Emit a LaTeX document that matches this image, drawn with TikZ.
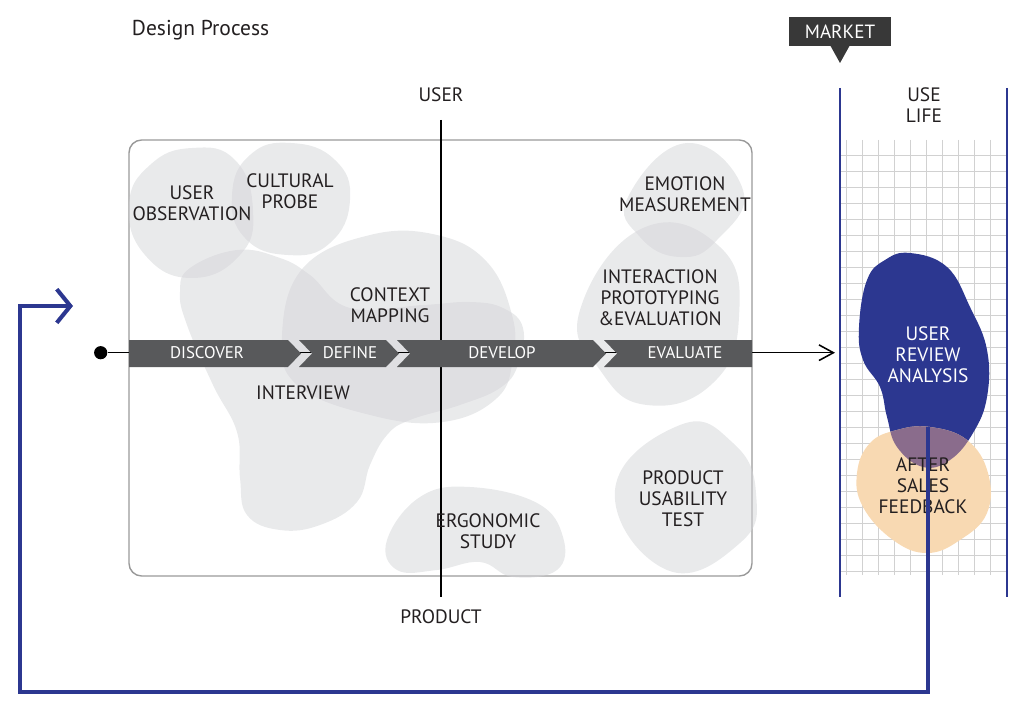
\documentclass[tikz,border=0pt]{standalone}
\usepackage{fontspec}
\setmainfont{PT Sans}
\usetikzlibrary{positioning,arrows.meta}
\definecolor{myblue}{RGB}{44,55,144}
\definecolor{mygray}{RGB}{88,89,91}
\definecolor{myblob}{RGB}{212,213,216}
\definecolor{mypeach}{RGB}{248,217,178}
\definecolor{mymauve}{RGB}{138,108,140}
\definecolor{mytext}{RGB}{35,31,32}
\newcommand{\reviewpath}{plot[smooth cycle,tension=0.7] coordinates {(910,253) (947,267) (970,307) (987,350) (987,397) (973,433) (950,460) (923,467) (897,447) (887,417) (880,387) (863,360) (859,327) (867,280) (885,260)}}
\newcommand{\salespath}{plot[smooth cycle,tension=0.7] coordinates {(930,427) (967,440) (988,473) (987,513) (960,540) (927,553) (893,540) (863,507) (857,473) (870,443) (897,430)}}

\begin{document}
\begin{tikzpicture}[x=0.025cm,y=-0.025cm,
  blob/.style={fill=myblob,fill opacity=0.5},
  label/.style={text=mytext,align=center,font=\fontsize{13.8}{15}\selectfont},
  phase/.style={fill=mygray},
  phasetext/.style={text=white,font=\fontsize{12}{14}\selectfont},
  lane/.style={myblue,line width=2pt},
  gridline/.style={black!18,line width=0.5pt}
]
\useasboundingbox (0,0) rectangle (1024,721);

% the title
\node[label,anchor=west,font=\fontsize{15.3}{17}\selectfont] (title) at (127,30) {Design Process};

% the frame
\draw[black!40,line width=1pt,rounded corners=9pt] (129,140) rectangle (752,576);

% the grid of the use life
\foreach \i in {0,...,9}
  \draw[gridline] (846.7+16*\i,140) -- (846.7+16*\i,575);
\foreach \j in {0,...,26}
  \draw[gridline] (840,155.7+16*\j) -- (1007,155.7+16*\j);

% the blobs
\fill[blob] plot[smooth cycle,tension=0.8] coordinates {(129,205) (150,165) (192,148) (235,160) (253,210) (240,255) (192,278) (145,255)};
\fill[blob] plot[smooth cycle,tension=0.8] coordinates {(232,195) (250,155) (291,143) (335,160) (350,200) (330,243) (288,255) (245,238)};
\fill[blob] plot[smooth cycle,tension=0.7] coordinates {(190,268) (237,250) (280,258) (310,275) (350,308) (423,305) (470,302) (503,308) (523,328) (518,365) (500,388) (460,405) (410,420) (387,435) (370,465) (357,502) (320,525) (280,530) (247,515) (240,478) (237,432) (213,385) (187,325) (180,292)};
\fill[blob] plot[smooth cycle,tension=0.7] coordinates {(282,335) (303,268) (370,235) (437,235) (487,262) (512,315) (513,358) (497,398) (443,422) (370,415) (297,385)};
\fill[blob] plot[smooth cycle,tension=0.7] coordinates {(387,540) (420,497) (470,487) (537,503) (563,537) (557,570) (513,577) (480,562) (437,570) (397,570)};
\fill[blob] plot[smooth cycle,tension=0.8] coordinates {(628,197) (687,143) (743,190) (717,240) (680,257) (640,237)};
\fill[blob] plot[smooth cycle,tension=0.8] coordinates {(643,228) (720,247) (739,317) (713,383) (647,405) (600,370) (580,310)};
\fill[blob] plot[smooth cycle,tension=0.8] coordinates {(680,425) (733,443) (756,493) (740,543) (667,570) (615,490)};

% the process line
\node[circle,fill=black,inner sep=0pt,minimum size=0.33cm] (start) at (100.7,352.7) {};
\coordinate (lanein) at (835,352.7);
\draw[line width=1.1pt,-{Straight Barb[length=3.6mm,width=3.9mm]}] (start) -- (lanein);

% the axes
\node[label] (user) at (441,95) {USER};
\node[label] (product) at (441,617) {PRODUCT};
\coordinate (axistop) at (441,120);
\coordinate (axisbottom) at (441,597);
\draw[line width=1.5pt] (axistop) -- (axisbottom);

% the phases
\fill[phase] (129,340) -- (288,340) -- (301,353.5) -- (288,367) -- (129,367) -- cycle;
\fill[phase] (299,340) -- (386,340) -- (399,353.5) -- (386,367) -- (299,367) -- (312,353.5) -- cycle;
\fill[phase] (397,340) -- (593,340) -- (606,353.5) -- (593,367) -- (397,367) -- (410,353.5) -- cycle;
\fill[phase] (604,340) -- (752,340) -- (752,367) -- (604,367) -- (617,353.5) -- cycle;
\node[phasetext] (discover) at (207,353) {DISCOVER};
\node[phasetext] (define) at (350,353) {DEFINE};
\node[phasetext] (develop) at (502,353) {DEVELOP};
\node[phasetext] (evaluate) at (685,353) {EVALUATE};

% the methods
\node[label] (observation) at (192,203) {USER\\OBSERVATION};
\node[label] (probe) at (290,191) {CULTURAL\\PROBE};
\node[label] (context) at (390,305) {CONTEXT\\MAPPING};
\node[label] (interview) at (303,393) {INTERVIEW};
\node[label] (ergonomic) at (488,531) {ERGONOMIC\\STUDY};
\node[label] (emotion) at (685,194) {EMOTION\\MEASUREMENT};
\node[label] (interaction) at (660,298) {INTERACTION\\PROTOTYPING\\\&EVALUATION};
\node[label] (usability) at (683,499) {PRODUCT\\USABILITY\\TEST};

% the market lane
\node[fill=black!78,text=white,minimum width=2.55cm,minimum height=0.7cm,inner sep=0pt,font=\fontsize{13.6}{15}\selectfont] (market) at (840,31.5) {MARKET};
\fill[black!78] (830,45) -- (840,63) -- (850,45) -- cycle;
\node[label] (uselife) at (924,105) {USE\\LIFE};
\draw[lane] (840,88) -- (840,597);
\draw[lane] (1007,88) -- (1007,597);

% the review and the feedback
\fill[myblue] \reviewpath;
\fill[mypeach] \salespath;
\begin{scope}
  \clip \salespath;
  \fill[mymauve] \reviewpath;
\end{scope}
\node[label,text=white] (review) at (928,355) {USER\\REVIEW\\ANALYSIS};
\node[label] (sales) at (923,486) {AFTER\\SALES\\FEEDBACK};

% the edges
\coordinate (fb) at (928,427);
\coordinate (fbturn) at (20,692);
\coordinate (back) at (73,306);
\draw[myblue,line width=2.9pt,-{Straight Barb[length=3.4mm,width=8.4mm]}] (fb) |- (fbturn) |- (back);
\end{tikzpicture}
\end{document}
